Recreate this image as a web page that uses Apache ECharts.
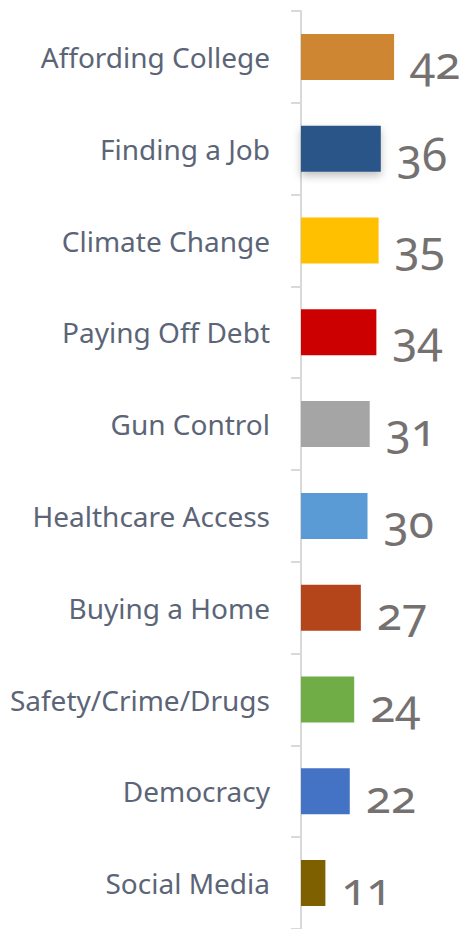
<!DOCTYPE html>
<html>
<head>
<meta charset="utf-8">
<script src="https://cdn.jsdelivr.net/npm/echarts@6/dist/echarts.min.js"></script>
<style>
    html, body {
        margin: 0;
        padding: 0;
        background: #fff;
    }
    #chart {
        width: 466px;
        height: 929px;
    }
    /* old-style figures for the value labels, like the source deck font */
    #chart text {
        font-feature-settings: "onum" 1;
        font-variant-numeric: oldstyle-nums !important;
    }
</style>
</head>
<body>
<div id="chart"></div>
<script>
let categories = ["Affording College", "Finding a Job", "Climate Change", "Paying Off Debt", "Gun Control",
    "Healthcare Access", "Buying a Home", "Safety/Crime/Drugs", "Democracy", "Social Media"];
let values = [42, 36, 35, 34, 31, 30, 27, 24, 22, 11];
let barColors = ["#CF8633", "#2C5489", "#FFC000", "#CC0000", "#A5A5A5",
    "#5B9BD5", "#B4441A", "#70AD47", "#4472C4", "#7F6000"];

let options = {
    animation: false,
    grid: {
        left: 301,
        top: 11,
        width: 133,
        height: 919,
    },
    xAxis: {
        type: "value",
        min: 0,
        max: 60,
        show: false,
    },
    yAxis: {
        type: "category",
        inverse: true,
        data: categories,
        axisLine: {
            show: true,
            lineStyle: {
                color: "#D9D9D9",
                width: 2,
            }
        },
        axisTick: {
            show: true,
            length: 10,
            lineStyle: {
                color: "#D9D9D9",
                width: 2,
            }
        },
        axisLabel: {
            margin: 31,
            color: "#5B6577",
            fontSize: 28,
            fontFamily: "Noto Sans",
        },
    },
    series: [
        {
            type: "bar",
            barWidth: 46,
            data: values.map((v, i) => ({
                value: v,
                itemStyle: i === 1 ? {
                    color: barColors[i],
                    shadowColor: "rgba(0,0,0,0.25)",
                    shadowBlur: 8,
                    shadowOffsetY: 4,
                } : {color: barColors[i]},
            })),
            label: {
                show: true,
                position: "right",
                distance: 16,
                offset: [0, 4],
                color: "#767171",
                fontSize: 46,
                fontFamily: "Noto Sans",
            },
        },
    ],
};

let chart = echarts.init(document.getElementById("chart"), null, {renderer: "svg"});
chart.setOption(options);
</script>
</body>
</html>
